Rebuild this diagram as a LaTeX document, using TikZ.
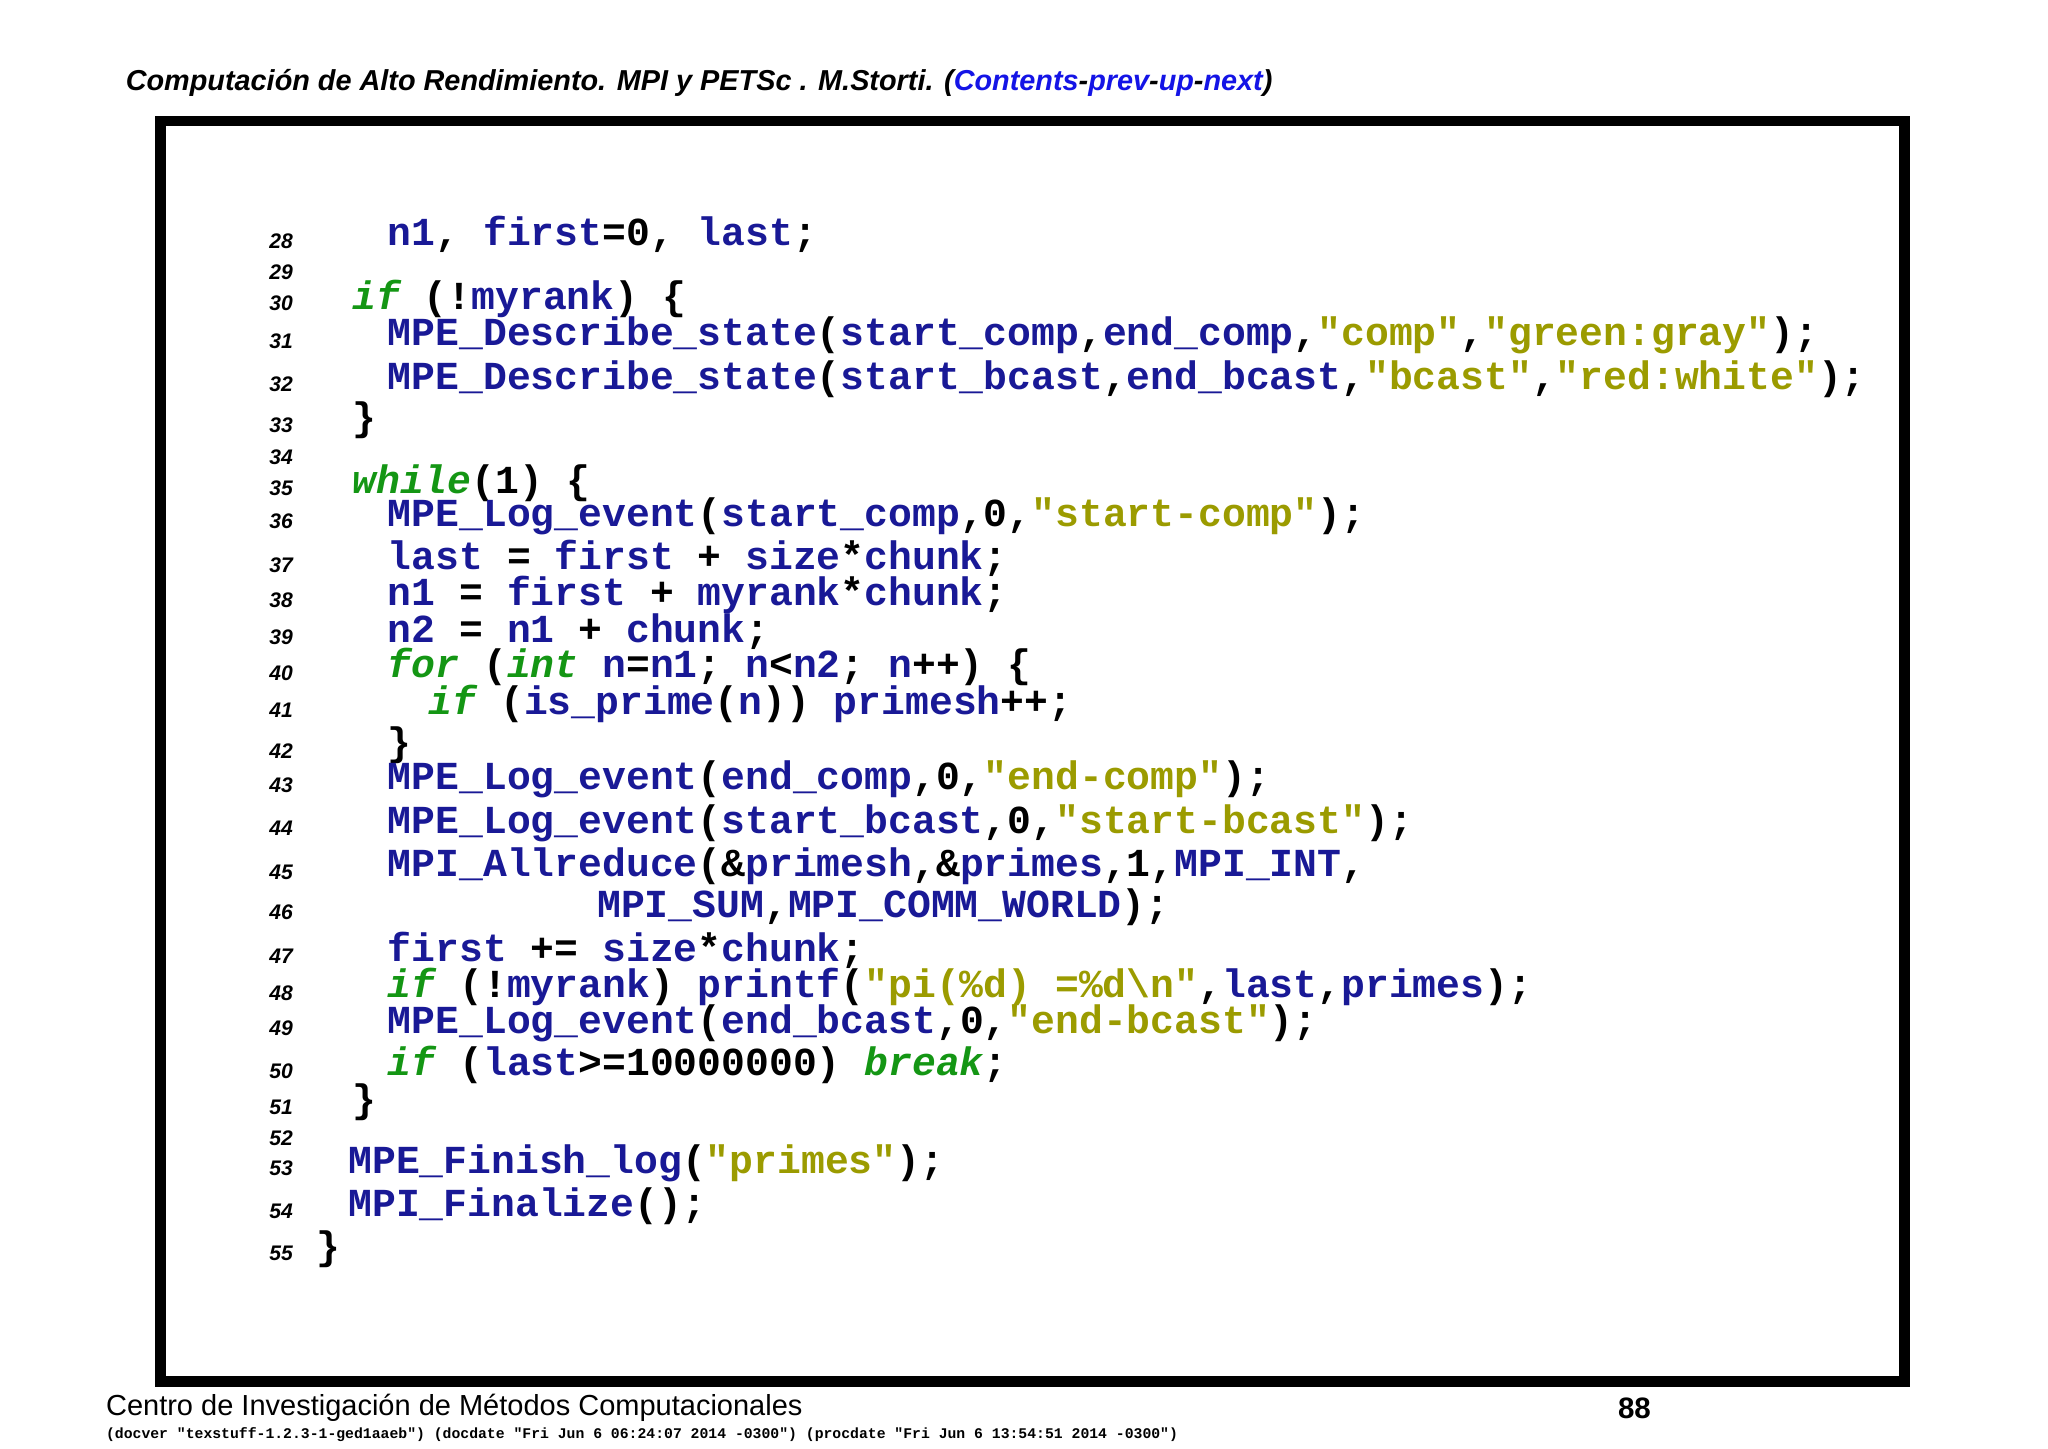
\documentclass[tikz,border=0pt]{standalone}
\usepackage{fontspec}
\setmainfont{Liberation Sans}
\newfontfamily\cf{Liberation Mono}
\definecolor{cb}{RGB}{25,25,150}
\definecolor{ck}{RGB}{20,150,20}
\definecolor{cs}{RGB}{155,155,0}
\definecolor{lb}{RGB}{20,20,230}
\newcommand{\B}[1]{\textcolor{cb}{#1}}
\newcommand{\K}[1]{\textcolor{ck}{\itshape #1}}
\newcommand{\Sx}[1]{\textcolor{cs}{#1}}
\begin{document}
\begin{tikzpicture}[x=0.01317cm,y=-0.01317cm,
  code/.style={anchor=west,inner sep=0,font=\cf\bfseries\fontsize{11.3}{12}\selectfont,text height=0.62em,text depth=0.12em},
  lnum/.style={anchor=west,inner sep=0,font=\bfseries\itshape\fontsize{6}{7}\selectfont}]
\useasboundingbox (0,0) rectangle (1555,1100);
\draw[line width=3pt] (122,92) rectangle (1446,1049);
\node[anchor=west,inner sep=0,font=\bfseries\itshape\fontsize{8.2}{10}\selectfont] (hd) at (95,63)
 {Computación de Alto Rendimiento. MPI y PETSc . M.Storti. (\textcolor{lb}{Contents}-\textcolor{lb}{prev}-\textcolor{lb}{up}-\textcolor{lb}{next})};
\node[anchor=west,inner sep=0,font=\fontsize{8.25}{10}\selectfont] (ft) at (80,1069) {Centro de Investigación de Métodos Computacionales};
\node[anchor=west,inner sep=0,font=\bfseries\fontsize{8.4}{10}\selectfont] (pg) at (1228,1069) {88};
\node[anchor=west,inner sep=0,font=\cf\bfseries\fontsize{4.2}{5}\selectfont] (dv) at (80,1089) {(docver "texstuff-1.2.3-1-ged1aaeb") (docdate "Fri Jun 6 06:24:07 2014 -0300") (procdate "Fri Jun 6 13:54:51 2014 -0300")};
% line numbers
\foreach \n/\y in {28/183,29/207,30/230,31/259,32/292,33/323,34/347,35/371,36/396,37/429,38/456,39/484,40/511,41/539,42/570,43/596,44/629,45/662,46/693,47/726,48/754,49/781,50/813,51/841,52/864,53/887,54/920,55/952}
  \node[lnum] (l\n) at (204,\y) {\n};
\node[code] (c28) at (294,180) {\B{n1}, \B{first}=0, \B{last};};
\node[code] (c30) at (267,228) {\K{if} (!\B{myrank}) \{};
\node[code] (c31) at (294,256) {\B{MPE\_Describe\_state}(\B{start\_comp},\B{end\_comp},\Sx{"comp"},\Sx{"green:gray"});};
\node[code] (c32) at (294,289) {\B{MPE\_Describe\_state}(\B{start\_bcast},\B{end\_bcast},\Sx{"bcast"},\Sx{"red:white"});};
\node[code] (c33) at (267,320) {\}};
\node[code] (c35) at (267,368) {\K{while}(1) \{};
\node[code] (c36) at (294,393) {\B{MPE\_Log\_event}(\B{start\_comp},0,\Sx{"start-comp"});};
\node[code] (c37) at (294,426) {\B{last} = \B{first} + \B{size}*\B{chunk};};
\node[code] (c38) at (294,453) {\B{n1} = \B{first} + \B{myrank}*\B{chunk};};
\node[code] (c39) at (294,481) {\B{n2} = \B{n1} + \B{chunk};};
\node[code] (c40) at (294,508) {\K{for} (\K{int} \B{n}=\B{n1}; \B{n}<\B{n2}; \B{n}++) \{};
\node[code] (c41) at (325,536) {\K{if} (\B{is\_prime}(\B{n})) \B{primesh}++;};
\node[code] (c42) at (294,567) {\}};
\node[code] (c43) at (294,593) {\B{MPE\_Log\_event}(\B{end\_comp},0,\Sx{"end-comp"});};
\node[code] (c44) at (294,626) {\B{MPE\_Log\_event}(\B{start\_bcast},0,\Sx{"start-bcast"});};
\node[code] (c45) at (294,659) {\B{MPI\_Allreduce}(\&\B{primesh},\&\B{primes},1,\B{MPI\_INT},};
\node[code] (c46) at (453,690) {\B{MPI\_SUM},\B{MPI\_COMM\_WORLD});};
\node[code] (c47) at (294,723) {\B{first} += \B{size}*\B{chunk};};
\node[code] (c48) at (294,751) {\K{if} (!\B{myrank}) \B{printf}(\Sx{"pi(\%d) =\%d\textbackslash n"},\B{last},\B{primes});};
\node[code] (c49) at (294,778) {\B{MPE\_Log\_event}(\B{end\_bcast},0,\Sx{"end-bcast"});};
\node[code] (c50) at (294,810) {\K{if} (\B{last}>=10000000) \K{break};};
\node[code] (c51) at (267,838) {\}};
\node[code] (c53) at (264,884) {\B{MPE\_Finish\_log}(\Sx{"primes"});};
\node[code] (c54) at (264,917) {\B{MPI\_Finalize}();};
\node[code] (c55) at (240,950) {\}};
\end{tikzpicture}
\end{document}
